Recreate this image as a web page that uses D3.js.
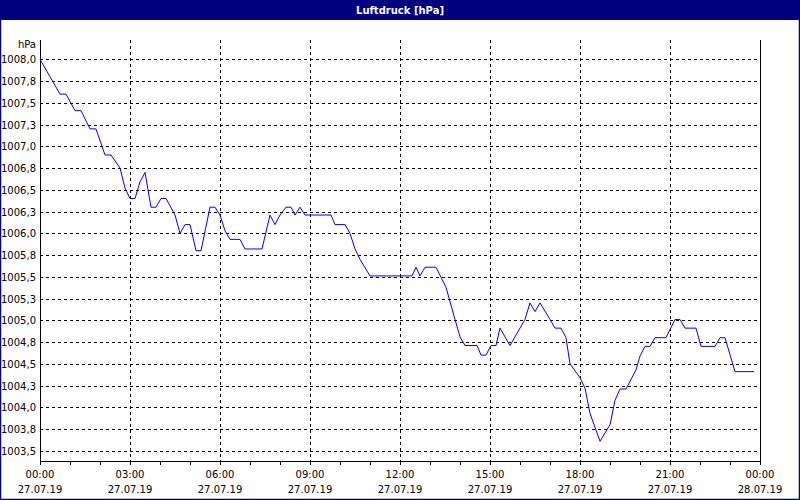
<!DOCTYPE html>
<html><head><meta charset="utf-8">
<script src="https://cdn.jsdelivr.net/npm/d3@7"></script>
<style>body{margin:0;background:#fff}text{font-family:"DejaVu Sans",sans-serif;font-size:10px}</style>
</head><body><svg id="c" width="800" height="500"></svg>
<script>
var hours = [0,0.667,0.867,1.167,1.367,1.667,1.867,2.167,2.367,2.667,2.833,3.0,3.167,3.333,3.5,3.7,3.867,4.033,4.2,4.5,4.667,4.833,5.0,5.2,5.367,5.667,5.833,6.0,6.167,6.333,6.667,6.833,7.4,7.667,7.833,8.0,8.2,8.367,8.5,8.667,8.833,9.7,9.833,10.167,10.333,10.5,10.667,11.0,12.4,12.533,12.667,12.833,13.2,13.533,13.833,14.0,14.167,14.567,14.7,14.867,15.033,15.2,15.333,15.667,16.167,16.333,16.5,16.667,17.0,17.167,17.367,17.533,17.667,18.0,18.167,18.333,18.667,19.0,19.167,19.333,19.533,19.867,20.0,20.167,20.333,20.5,20.867,21.167,21.333,21.5,21.867,22.033,22.5,22.667,22.833,23.167,23.8];
var pressure = [1008.0,1007.6,1007.6,1007.41,1007.41,1007.2,1007.2,1006.9,1006.9,1006.75,1006.52,1006.4,1006.4,1006.59,1006.7,1006.3,1006.3,1006.4,1006.4,1006.21,1006.0,1006.1,1006.1,1005.8,1005.8,1006.3,1006.3,1006.21,1006.03,1005.93,1005.93,1005.82,1005.82,1006.21,1006.1,1006.21,1006.3,1006.3,1006.21,1006.3,1006.21,1006.21,1006.1,1006.1,1006.0,1005.82,1005.7,1005.51,1005.51,1005.61,1005.51,1005.61,1005.61,1005.38,1005.01,1004.81,1004.71,1004.71,1004.6,1004.6,1004.71,1004.71,1004.91,1004.71,1005.01,1005.2,1005.1,1005.2,1005.01,1004.91,1004.91,1004.8,1004.5,1004.34,1004.22,1003.93,1003.61,1003.8,1004.08,1004.21,1004.21,1004.43,1004.59,1004.7,1004.7,1004.8,1004.8,1005.01,1005.01,1004.91,1004.91,1004.7,1004.7,1004.8,1004.8,1004.41,1004.41];
var yTicks = d3.range(0,19).map(function(i){return 1003.5+i*0.25;});
var xTicks = [0,3,6,9,12,15,18,21,24];
var xTime = ["00:00","03:00","06:00","09:00","12:00","15:00","18:00","21:00","00:00"];
var xDate = ["27.07.19","27.07.19","27.07.19","27.07.19","27.07.19","27.07.19","27.07.19","27.07.19","28.07.19"];

var svg = d3.select("#c");
var L=40,R=760,T=40,B=461;
var x = d3.scaleLinear().domain([0,24]).range([L,R]);
var y = d3.scaleLinear().domain([1003.5,1008]).range([450.8,59.3]);

svg.append("rect").attr("x",0.5).attr("y",0.5).attr("width",799).attr("height",499).attr("fill","none").attr("stroke","#000080").attr("stroke-width",1.5);
svg.append("rect").attr("x",0).attr("y",0).attr("width",800).attr("height",20).attr("fill","#000080");
svg.append("text").attr("x",400).attr("y",14).attr("text-anchor","middle").attr("fill","#fff").style("font-weight","bold").text("Luftdruck [hPa]");

// grid
svg.selectAll(".hg").data(yTicks).enter().append("line")
  .attr("x1",L).attr("x2",R).attr("y1",function(d){return Math.round(y(d))+0.5;}).attr("y2",function(d){return Math.round(y(d))+0.5;})
  .attr("stroke","#000").attr("stroke-dasharray","3,3");
svg.selectAll(".vg").data(xTicks.slice(1,-1)).enter().append("line")
  .attr("x1",function(d){return x(d)+0.5;}).attr("x2",function(d){return x(d)+0.5;}).attr("y1",T).attr("y2",B)
  .attr("stroke","#000").attr("stroke-dasharray","3,3");

// frame
svg.append("path").attr("d","M"+(L+0.5)+","+T+"V"+(B+0.5)+"H"+(R+0.5)+"V"+T).attr("fill","none").attr("stroke","#000");
svg.selectAll(".mt").data(d3.range(0,25)).enter().append("line")
  .attr("x1",function(d){return x(d)+0.5;}).attr("x2",function(d){return x(d)+0.5;}).attr("y1",B).attr("y2",B+4).attr("stroke","#000");

// labels
svg.selectAll(".yl").data(yTicks).enter().append("text")
  .attr("x",36).attr("y",function(d){return y(d)+4;}).attr("text-anchor","end")
  .text(function(d){return d3.format(".1f")(d).replace(".",",");});
svg.append("text").attr("x",36).attr("y",48).attr("text-anchor","end").text("hPa");
svg.selectAll(".xl").data(xTicks).enter().append("text")
  .attr("x",function(d){return x(d);}).attr("y",478).attr("text-anchor","middle").text(function(d,i){return xTime[i];});
svg.selectAll(".xd").data(xTicks).enter().append("text")
  .attr("x",function(d){return x(d);}).attr("y",493).attr("text-anchor","middle").text(function(d,i){return xDate[i];});

var line = d3.line().x(function(d){return x(d);}).y(function(d,i){return y(pressure[i]);});
svg.append("path").attr("d",line(hours)).attr("fill","none").attr("stroke","#0000ff").attr("stroke-width",1);
</script></body></html>
